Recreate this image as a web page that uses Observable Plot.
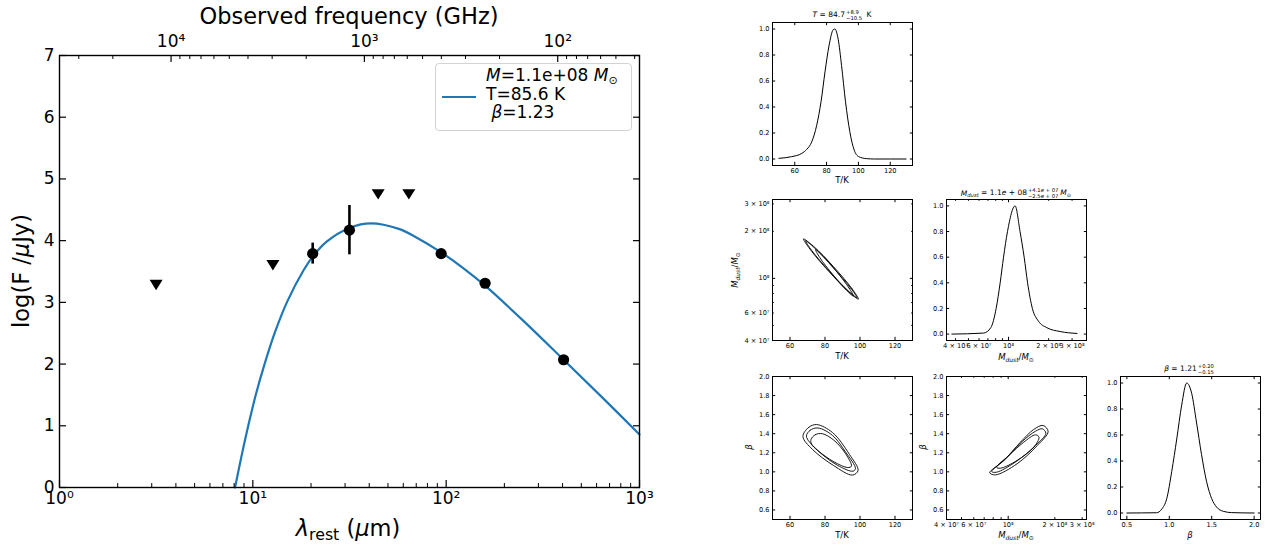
<!DOCTYPE html>
<html>
<head>
<meta charset="utf-8">
<script src="https://cdn.jsdelivr.net/npm/d3@7"></script>
<script src="https://cdn.jsdelivr.net/npm/@observablehq/plot@0.6"></script>
<style>
html,body{margin:0;padding:0;background:#fff;}
#root{position:relative;width:1271px;height:546px;overflow:hidden;background:#fff;font-family:"DejaVu Sans",sans-serif;color:#000;}
.t{position:absolute;white-space:nowrap;line-height:1;transform-origin:center center;}
.ss{display:inline-flex;flex-direction:column;font-size:70%;line-height:1.05;vertical-align:middle;text-align:left;margin-left:1px;margin-right:2px;}
.sb{font-size:70%;vertical-align:-0.3em;line-height:0;}
</style>
</head>
<body>
<div id="root"></div>
<script>
// ---------------- SED panel ----------------
const detLambda = [20.4, 31.6, 94.2, 159, 405];          // rest wavelength (μm)
const detLogF   = [3.79, 4.17, 3.79, 3.31, 2.07];        // log10(F / μJy)
const detErr    = [0.17, 0.40, 0, 0, 0];
const ulLambda  = [3.16, 12.7, 44.5, 64.1];              // upper limits
const ulLogF    = [3.28, 3.60, 4.75, 4.75];
const modelLambda = [8.09, 8.7, 9.5, 10.35, 11.5, 13.1, 15.1, 18.3, 20.4, 24.0, 31.8, 40.9, 56.9, 69.4, 94.2, 122, 159, 251, 405, 641, 1000];
const modelLogF   = [0, 0.48, 1.02, 1.5, 2.0, 2.54, 3.02, 3.52, 3.74, 3.98, 4.21, 4.28, 4.19, 4.06, 3.81, 3.56, 3.27, 2.70, 2.07, 1.46, 0.86];

const xMajor = [1, 10, 100, 1000];
const xMajorLabels = ["10⁰", "10¹", "10²", "10³"];
const xMinor = [2,3,4,5,6,7,8,9,20,30,40,50,60,70,80,90,200,300,400,500,600,700,800,900];
const yTicks = [0, 1, 2, 3, 4, 5, 6, 7];
const freqMajor = [1e4, 1e3, 1e2];                        // GHz
const freqMajorLabels = ["10⁴", "10³", "10²"];
const freqMinor = [3e4, 2e4, 9e3, 8e3, 7e3, 6e3, 5e3, 4e3, 3e3, 2e3, 900, 800, 700, 600, 500, 400, 300, 200, 90, 80, 70, 60, 50, 40];
const onePlusZ = 7.94;                                    // read from top/bottom axis alignment
const nuToRest = nu => 299792.458 / nu / onePlusZ;        // GHz -> rest-frame μm

// ---------------- corner plot ----------------
const tGrid = [50, 58, 64.4, 67.5, 70.6, 73.8, 76.5, 79.0, 81.5, 84.2, 85.2, 87.3, 89.4, 91.9, 94.6, 97.3, 100.2, 105, 110, 130];
const tPdf  = [0.005, 0.018, 0.043, 0.074, 0.13, 0.26, 0.44, 0.67, 0.87, 0.995, 1.0, 0.92, 0.72, 0.44, 0.21, 0.07, 0.018, 0.003, 0, 0];
const mGrid = [3.75e7, 6.49e7, 7.36e7, 8.07e7, 8.65e7, 9.17e7, 9.82e7, 1.12e8, 1.22e8, 1.31e8, 1.39e8, 1.51e8, 1.68e8, 1.94e8, 2.44e8, 3.27e8];
const mPdf  = [0, 0.008, 0.05, 0.2, 0.4, 0.6, 0.8, 1.0, 0.8, 0.6, 0.4, 0.2, 0.1, 0.05, 0.02, 0.005];
const bGrid = [0.5, 0.85, 0.911, 0.97, 1.029, 1.088, 1.146, 1.205, 1.264, 1.32, 1.38, 1.44, 1.5, 1.557, 1.636, 1.734, 2.0];
const bPdf  = [0, 0.002, 0.03, 0.11, 0.32, 0.57, 0.83, 1.0, 0.92, 0.70, 0.45, 0.24, 0.11, 0.046, 0.013, 0.003, 0];

const tmContT = [[99.1, 95.5, 84.8, 73.3, 67.7, 71.4, 82.1, 93.6],
                 [98.3, 94.7, 84.7, 73.9, 68.9, 72.4, 82.5, 93.2],
                 [96.3, 93.8, 86.5, 78.5, 74.6, 77.0, 84.4, 92.3]];
const tmContM = [[7.36e7, 8.57e7, 1.19e8, 1.61e8, 1.79e8, 1.54e8, 1.11e8, 8.20e7],
                 [7.52e7, 8.65e7, 1.17e8, 1.57e8, 1.74e8, 1.51e8, 1.11e8, 8.34e7],
                 [7.69e7, 8.65e7, 1.11e8, 1.41e8, 1.53e8, 1.36e8, 1.06e8, 8.38e7]];
const tbContT = [[67.4, 70.6, 75.2, 84.3, 94.0, 98.9, 95.7, 84.9, 72.9],
                 [69.4, 71.5, 76.0, 84.2, 91.7, 97.4, 96.0, 87.0, 74.7],
                 [72.0, 74.5, 78.5, 85.1, 91.7, 95.1, 93.0, 85.1, 75.7, 72.3]];
const tbContB = [[1.370, 1.465, 1.496, 1.412, 1.182, 1.014, 0.966, 1.066, 1.234],
                 [1.373, 1.436, 1.460, 1.383, 1.209, 1.035, 1.007, 1.070, 1.244],
                 [1.34, 1.39, 1.40, 1.331, 1.192, 1.059, 1.045, 1.105, 1.226, 1.29]];
const mbContM = [[7.60e7, 9.38e7, 1.20e8, 1.46e8, 1.68e8, 1.81e8, 1.54e8, 1.14e8, 8.28e7],
                 [7.83e7, 9.62e7, 1.23e8, 1.50e8, 1.66e8, 1.75e8, 1.50e8, 1.11e8, 8.41e7],
                 [8.41e7, 1.01e8, 1.26e8, 1.50e8, 1.58e8, 1.46e8, 1.14e8, 8.91e7]];
const mbContB = [[0.990, 1.119, 1.311, 1.444, 1.486, 1.423, 1.276, 1.084, 0.968],
                 [1.003, 1.136, 1.318, 1.426, 1.451, 1.405, 1.276, 1.101, 0.996],
                 [1.048, 1.171, 1.311, 1.388, 1.363, 1.258, 1.119, 1.038]];

const tTicks = [60, 80, 100, 120];
const pdfTicks = [0, 0.2, 0.4, 0.6, 0.8, 1.0];
const betaTicks = [0.6, 0.8, 1.0, 1.2, 1.4, 1.6, 1.8, 2.0];
const betaHistTicks = [0.5, 1.0, 1.5, 2.0];
const massMajor = [1e8];
const massMinor = [4e7, 5e7, 6e7, 7e7, 8e7, 9e7, 2e8, 3e8];
const massLabelTicks = [4e7, 6e7, 1e8, 2e8, 3e8];
const massLabels = ["4 × 10⁷", "6 × 10⁷", "10⁸", "2 × 10⁸", "3 × 10⁸"];

// ---------------- helpers ----------------
const root = document.getElementById("root");
const FONT = '"DejaVu Sans", sans-serif';
const none = () => "";
function put(svg, left, top) {
  svg.style.position = "absolute";
  svg.style.left = left + "px";
  svg.style.top = top + "px";
  root.appendChild(svg);
}
function txt(html, x, y, size, rotate = 0) {
  const d = document.createElement("div");
  d.className = "t";
  d.style.left = x + "px";
  d.style.top = y + "px";
  d.style.fontSize = size + "px";
  d.style.transform = `translate(-50%, -50%) rotate(${rotate}deg)`;
  d.innerHTML = html;
  root.appendChild(d);
}
// inward tick marks
const tkB = (data, size, sw = 1) => data.length ? Plot.axisX(data, {anchor: "bottom", tickSize: -size, tickFormat: none, label: null, strokeWidth: sw}) : null;
const tkL = (data, size, sw = 1) => data.length ? Plot.axisY(data, {anchor: "left", tickSize: -size, tickFormat: none, label: null, strokeWidth: sw}) : null;
const tkR = (data, size, sw = 1) => data.length ? Plot.axisY(data, {anchor: "right", tickSize: -size, tickFormat: none, label: null, strokeWidth: sw}) : null;
const tkT = (data, size, frameH, sw = 1) => data.length ? Plot.tickX(data, {x: d => d, insetBottom: frameH - size, stroke: "#000", strokeWidth: sw}) : null;
// tick labels
const lbB = (data, fmt, pad) => Plot.text(data, {x: d => d, frameAnchor: "bottom", dy: pad, lineAnchor: "top", text: fmt, fill: "#000"});
const lbT = (data, fmt, pad) => Plot.text(data, {x: d => d, frameAnchor: "top", dy: -pad, lineAnchor: "bottom", text: fmt, fill: "#000"});
const lbL = (data, fmt, pad) => Plot.text(data, {y: d => d, frameAnchor: "left", dx: -pad, textAnchor: "end", text: fmt, fill: "#000"});
const inDom = (arr, [a, b]) => arr.filter(v => v >= Math.min(a, b) && v <= Math.max(a, b));

const triangleDown = {
  draw(ctx, size) {
    const w = Math.sqrt(size) * 1.5, h = w * 0.8;
    ctx.moveTo(0, h / 2); ctx.lineTo(-w / 2, -h / 2); ctx.lineTo(w / 2, -h / 2); ctx.closePath();
  }
};

// ---------------- main SED plot ----------------
{
  const det = detLambda.map((l, i) => ({l, f: detLogF[i], e: detErr[i]}));
  const ul = ulLambda.map((l, i) => ({l, f: ulLogF[i]}));
  const model = modelLambda.map((l, i) => ({l, f: modelLogF[i]}));
  const fMajL = freqMajor.map(nuToRest);
  const fMinL = freqMinor.map(nuToRest);
  const H = 546 - 55 - 59;
  const svg = Plot.plot({
    width: 650, height: 546,
    marginLeft: 59, marginRight: 11, marginTop: 55, marginBottom: 59,
    x: {type: "log", domain: [1, 1000]},
    y: {type: "linear", domain: [0, 7]},
    style: {fontFamily: FONT, fontSize: "17px", color: "#000", background: "transparent", overflow: "visible"},
    marks: [
      Plot.line(model, {x: "l", y: "f", stroke: "#1f77b4", strokeWidth: 2.2, curve: "catmull-rom"}),
      Plot.ruleX(det.filter(d => d.e > 0), {x: "l", y1: d => d.f - d.e, y2: d => d.f + d.e, stroke: "#000", strokeWidth: 2.6}),
      Plot.dot(det, {x: "l", y: "f", r: 5.6, fill: "#000"}),
      Plot.dot(ul, {x: "l", y: "f", r: 4.9, symbol: triangleDown, fill: "#000"}),
      Plot.frame({stroke: "#000", strokeWidth: 1.4}),
      tkB(xMajor, 7, 1.2),
      tkB(xMinor, 4, 1),
      tkT(fMajL, 7, H, 1.2),
      tkT(fMinL, 4, H, 1),
      tkL(yTicks, 7, 1.2),
      tkR(yTicks, 7, 1.2),
      lbB(xMajor, d => xMajorLabels[xMajor.indexOf(d)], 4),
      lbT(fMajL, d => freqMajorLabels[fMajL.indexOf(d)], 9),
      lbL(yTicks, d => String(d), 5)
    ].filter(Boolean)
  });
  put(svg, 0, 0);

  txt("Observed frequency (GHz)", 349, 16, 22.5);
  txt("log(F /<i>μ</i>Jy)", 21, 271, 22.5, -90);
  txt("<i>λ</i><span class=\"sb\">rest</span> (<i>μ</i>m)", 348, 528, 22.5);

  // legend
  const lg = document.createElement("div");
  lg.style.cssText = "position:absolute;left:435px;top:63px;width:197px;height:68px;border:1px solid #d3d3d3;border-radius:4px;background:rgba(255,255,255,0.85);box-sizing:border-box;font-size:17px;";
  lg.innerHTML =
    '<div style="position:absolute;left:6px;top:32px;width:34px;height:0;border-top:2.4px solid #1f77b4"></div>' +
    '<div style="position:absolute;left:50px;top:2px;line-height:18.6px;white-space:nowrap;">' +
    '<div><i>M</i>=1.1e+08 <i>M</i><span style="font-size:65%;vertical-align:-0.3em;line-height:0">⊙</span></div>' +
    '<div>T=85.6 K</div>' +
    '<div>&nbsp;<i>β</i>=1.23</div></div>';
  root.appendChild(lg);
}

// ---------------- corner panels ----------------
function corner(o) {
  const {x0, y0, w = 140, h = 143, ml = 44, mr = 8, mt = 8, mb = 20, x, y, marks,
         xMaj, xMin = [], xLab, xFmt, yMaj, yMin = [], yLab, yFmt} = o;
  const xd = x.domain, yd = y.domain;
  const all = [
    ...marks,
    Plot.frame({stroke: "#000", strokeWidth: 1}),
    tkB(inDom(xMaj, xd), 3.2), tkT(inDom(xMaj, xd), 3.2, h),
    tkB(inDom(xMin, xd), 1.8), tkT(inDom(xMin, xd), 1.8, h),
    tkL(inDom(yMaj, yd), 3.2), tkR(inDom(yMaj, yd), 3.2),
    tkL(inDom(yMin, yd), 1.8), tkR(inDom(yMin, yd), 1.8),
    lbB(inDom(xLab, xd), xFmt, 2.5),
    lbL(inDom(yLab, yd), yFmt, 3)
  ].filter(Boolean);
  const svg = Plot.plot({
    width: ml + w + mr, height: mt + h + mb,
    marginLeft: ml, marginRight: mr, marginTop: mt, marginBottom: mb,
    x, y,
    style: {fontFamily: FONT, fontSize: "6.6px", color: "#000", background: "transparent", overflow: "visible"},
    marks: all
  });
  put(svg, x0 - ml, y0 - mt);
}
const f1 = d3.format(".1f");
const fInt = d => String(d);
const fMass = d => massLabels[massLabelTicks.indexOf(d)];
const rowsOf = (xs, ys) => xs.flatMap((xa, k) => xa.map((v, i) => ({x: v, y: ys[k][i], k})));
const histRows = (xs, ys) => xs.map((v, i) => ({x: v, y: ys[i]}));
const histLine = data => Plot.line(data, {x: "x", y: "y", stroke: "#000", strokeWidth: 1, curve: "monotone-x"});
const contLine = data => Plot.line(data, {x: "x", y: "y", z: "k", stroke: "#000", strokeWidth: 0.9, curve: "catmull-rom-closed"});

// T posterior
corner({x0: 772, y0: 22, h: 143,
  x: {type: "linear", domain: [46, 134]}, y: {type: "linear", domain: [-0.05, 1.05]},
  marks: [histLine(histRows(tGrid, tPdf))],
  xMaj: tTicks, xLab: tTicks, xFmt: fInt, yMaj: pdfTicks, yLab: pdfTicks, yFmt: f1});
// M vs T
corner({x0: 772, y0: 199, h: 141,
  x: {type: "linear", domain: [50, 130]}, y: {type: "log", domain: [4e7, 3.2e8]},
  marks: [contLine(rowsOf(tmContT, tmContM))],
  xMaj: tTicks, xLab: tTicks, xFmt: fInt, yMaj: massMajor, yMin: massMinor, yLab: massLabelTicks, yFmt: fMass});
// M posterior
corner({x0: 946, y0: 199, h: 141,
  x: {type: "log", domain: [3.42e7, 3.85e8]}, y: {type: "linear", domain: [-0.05, 1.05]},
  marks: [histLine(histRows(mGrid, mPdf))],
  xMaj: massMajor, xMin: massMinor, xLab: massLabelTicks, xFmt: fMass, yMaj: pdfTicks, yLab: pdfTicks, yFmt: f1});
// beta vs T
corner({x0: 772, y0: 376, h: 143,
  x: {type: "linear", domain: [50, 130]}, y: {type: "linear", domain: [0.5, 2.0]},
  marks: [contLine(rowsOf(tbContT, tbContB))],
  xMaj: tTicks, xLab: tTicks, xFmt: fInt, yMaj: betaTicks, yLab: betaTicks, yFmt: f1});
// beta vs M
corner({x0: 946, y0: 376, h: 143,
  x: {type: "log", domain: [4e7, 3.2e8]}, y: {type: "linear", domain: [0.5, 2.0]},
  marks: [contLine(rowsOf(mbContM, mbContB))],
  xMaj: massMajor, xMin: massMinor, xLab: massLabelTicks, xFmt: fMass, yMaj: betaTicks, yLab: betaTicks, yFmt: f1});
// beta posterior
corner({x0: 1120, y0: 376, h: 143,
  x: {type: "linear", domain: [0.425, 2.075]}, y: {type: "linear", domain: [-0.05, 1.05]},
  marks: [histLine(histRows(bGrid, bPdf))],
  xMaj: betaHistTicks, xLab: betaHistTicks, xFmt: f1, yMaj: pdfTicks, yLab: pdfTicks, yFmt: f1});

// corner titles and labels
const MD = '<i>M<span class="sb">dust</span></i>/<i>M</i><span class="sb">⊙</span>';
txt('<i>T</i> = 84.7<span class="ss"><span>+8.9</span><span>−10.5</span></span> K', 842, 15, 7.5);
txt('<i>M<span class="sb">dust</span></i> = 1.1<i>e</i> + 08<span class="ss"><span>+4.1<i>e</i> + 07</span><span>−2.5<i>e</i> + 07</span></span><i>M</i><span class="sb">⊙</span>', 1016, 193, 7.5);
txt('<i>β</i> = 1.21<span class="ss"><span>+0.20</span><span>−0.15</span></span>', 1190, 369, 7.5);
txt("T/K", 842, 180, 8.5);
txt("T/K", 842, 356, 8.5);
txt("T/K", 842, 535, 8.5);
txt(MD, 1016, 357, 8.5);
txt(MD, 1016, 535, 8.5);
txt("<i>β</i>", 1190, 535, 8.5);
txt(MD, 735, 270, 8.5, -90);
txt("<i>β</i>", 749, 447, 8.5, -90);
txt("<i>β</i>", 923, 447, 8.5, -90);
</script>
</body>
</html>
